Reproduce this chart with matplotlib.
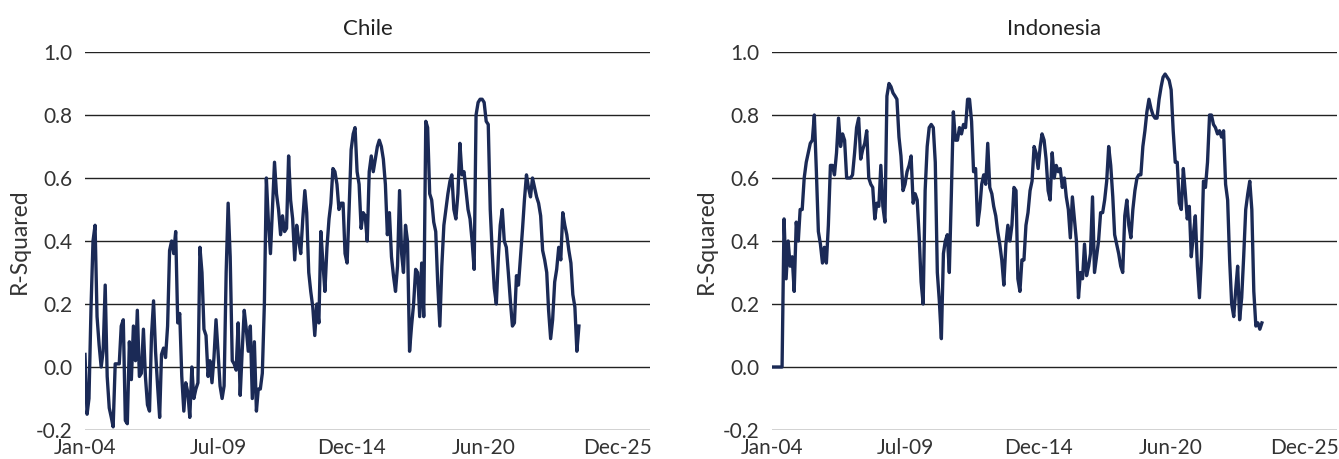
import datetime

import matplotlib
matplotlib.use("Agg")
from matplotlib import pyplot as plt
import matplotlib.dates as mdates
import pandas as pd

plt.rcParams['font.family'] = ['Lato', 'DejaVu Sans']

# Monthly R-squared values, starting Jan 2004
chile_values = [
    0.04, -0.15, -0.10, 0.19, 0.40, 0.45, 0.16, 0.07, 0.00, 0.05,
    0.26, -0.03, -0.13, -0.16, -0.19, 0.01, 0.01, 0.01, 0.13, 0.15,
    -0.17, -0.18, 0.08, -0.04, 0.13, 0.02, 0.18, -0.03, -0.02, 0.12,
    -0.03, -0.12, -0.14, 0.10, 0.21, 0.05, -0.06, -0.16, 0.04, 0.06,
    0.03, 0.13, 0.37, 0.40, 0.36, 0.43, 0.14, 0.17, -0.03, -0.14,
    -0.05, -0.08, -0.16, 0.00, -0.10, -0.07, -0.05, 0.38, 0.30, 0.12,
    0.10, -0.03, 0.02, -0.05, 0.03, 0.15, 0.05, -0.06, -0.10, -0.06,
    0.30, 0.52, 0.35, 0.02, 0.01, -0.01, 0.14, -0.09, 0.05, 0.18,
    0.12, 0.05, 0.13, -0.10, 0.08, -0.14, -0.07, -0.07, -0.02, 0.20,
    0.60, 0.46, 0.36, 0.50, 0.65, 0.55, 0.50, 0.42, 0.48, 0.43,
    0.44, 0.67, 0.53, 0.47, 0.34, 0.45, 0.40, 0.36, 0.47, 0.56,
    0.49, 0.30, 0.24, 0.19, 0.10, 0.20, 0.14, 0.43, 0.33, 0.24,
    0.38, 0.47, 0.52, 0.63, 0.62, 0.58, 0.50, 0.52, 0.52, 0.36,
    0.33, 0.50, 0.69, 0.74, 0.76, 0.62, 0.58, 0.44, 0.49, 0.48,
    0.40, 0.62, 0.67, 0.62, 0.66, 0.70, 0.72, 0.70, 0.66, 0.58,
    0.42, 0.49, 0.35, 0.29, 0.24, 0.32, 0.56, 0.36, 0.30, 0.45,
    0.40, 0.05, 0.13, 0.20, 0.31, 0.30, 0.16, 0.33, 0.16, 0.78,
    0.76, 0.55, 0.53, 0.46, 0.43, 0.26, 0.13, 0.32, 0.45, 0.50,
    0.55, 0.59, 0.61, 0.50, 0.47, 0.55, 0.71, 0.61, 0.62, 0.56,
    0.50, 0.47, 0.40, 0.31, 0.80, 0.84, 0.85, 0.85, 0.84, 0.78,
    0.77, 0.50, 0.36, 0.25, 0.20, 0.35, 0.45, 0.50, 0.40, 0.38,
    0.30, 0.21, 0.13, 0.14, 0.29, 0.26, 0.35, 0.44, 0.53, 0.61,
    0.57, 0.54, 0.60, 0.57, 0.54, 0.52, 0.48, 0.37, 0.34, 0.30,
    0.18, 0.09, 0.15, 0.27, 0.31, 0.38, 0.34, 0.49, 0.45, 0.42,
    0.37, 0.33, 0.23, 0.19, 0.05, 0.13,
]

indonesia_values = [
    0.00, 0.00, 0.00, 0.00, 0.00, 0.00, 0.47, 0.28, 0.40, 0.32,
    0.35, 0.24, 0.46, 0.40, 0.50, 0.50, 0.60, 0.65, 0.68, 0.71,
    0.72, 0.80, 0.62, 0.43, 0.39, 0.33, 0.38, 0.33, 0.45, 0.64,
    0.64, 0.61, 0.68, 0.79, 0.70, 0.74, 0.72, 0.60, 0.60, 0.60,
    0.61, 0.68, 0.76, 0.79, 0.66, 0.69, 0.71, 0.75, 0.60, 0.58,
    0.57, 0.47, 0.52, 0.51, 0.64, 0.51, 0.46, 0.86, 0.90, 0.89,
    0.87, 0.86, 0.85, 0.73, 0.67, 0.56, 0.58, 0.62, 0.64, 0.67,
    0.52, 0.55, 0.53, 0.41, 0.27, 0.20, 0.56, 0.70, 0.76, 0.77,
    0.76, 0.65, 0.30, 0.21, 0.09, 0.36, 0.40, 0.42, 0.30, 0.55,
    0.81, 0.72, 0.72, 0.76, 0.74, 0.77, 0.76, 0.85, 0.85, 0.78,
    0.62, 0.63, 0.45, 0.50, 0.58, 0.61, 0.58, 0.71, 0.57, 0.55,
    0.51, 0.48, 0.43, 0.39, 0.34, 0.26, 0.39, 0.45, 0.40, 0.45,
    0.57, 0.56, 0.28, 0.24, 0.34, 0.34, 0.45, 0.49, 0.56, 0.59,
    0.70, 0.68, 0.63, 0.70, 0.74, 0.72, 0.66, 0.56, 0.53, 0.68,
    0.60, 0.64, 0.62, 0.63, 0.57, 0.60, 0.54, 0.50, 0.41, 0.54,
    0.47, 0.40, 0.22, 0.30, 0.28, 0.39, 0.29, 0.32, 0.36, 0.54,
    0.30, 0.35, 0.40, 0.49, 0.49, 0.53, 0.59, 0.70, 0.64, 0.54,
    0.42, 0.39, 0.36, 0.32, 0.30, 0.48, 0.53, 0.45, 0.41, 0.50,
    0.56, 0.60, 0.61, 0.61, 0.70, 0.75, 0.81, 0.85, 0.82, 0.80,
    0.79, 0.79, 0.85, 0.89, 0.92, 0.93, 0.92, 0.91, 0.88, 0.75,
    0.65, 0.65, 0.52, 0.50, 0.63, 0.55, 0.47, 0.51, 0.35, 0.42,
    0.48, 0.32, 0.22, 0.35, 0.59, 0.57, 0.65, 0.80, 0.80, 0.77,
    0.76, 0.74, 0.75, 0.73, 0.75, 0.58, 0.53, 0.34, 0.20, 0.16,
    0.24, 0.32, 0.15, 0.22, 0.35, 0.50, 0.55, 0.59, 0.50, 0.24,
    0.13, 0.14, 0.12, 0.14,
]

panel_titles = ['Chile', 'Indonesia']
tick_labels = ['Jan-04', 'Jul-09', 'Dec-14', 'Jun-20', 'Dec-25']
y_ticks = [-0.2, 0.0, 0.2, 0.4, 0.6, 0.8, 1.0]

LINE_COLOUR = '#1b2a56'
TEXT_COLOUR = '#333333'

# Excel style date axis: a major tick every 2008 days from Jan 2004
axis_start = datetime.date(2004, 1, 1)
tick_step = datetime.timedelta(days=2008)
tick_dates = [axis_start + tick_step * i for i in range(len(tick_labels))]
axis_end = axis_start + datetime.timedelta(days=8530)

fig = plt.figure(figsize=(13.39, 4.59), dpi=100)

W, H = 1339, 459
ax_width = 565 / W
ax_bottom = (H - 430) / H
ax_height = 378 / H
axes = [
    fig.add_axes([85 / W, ax_bottom, ax_width, ax_height]),
    fig.add_axes([772 / W, ax_bottom, ax_width, ax_height]),
]

for ax, title, values in zip(axes, panel_titles, [chile_values, indonesia_values]):
    dates = pd.date_range('2004-01-01', periods=len(values), freq='MS')
    ax.plot(dates, values, color=LINE_COLOUR, linewidth=2.4, solid_joinstyle='round', zorder=3)

    ax.set_ylim(-0.2, 1.0)
    ax.set_xlim(mdates.date2num(axis_start), mdates.date2num(axis_end))
    ax.set_yticks(y_ticks)
    ax.set_yticklabels([f"{v:.1f}" for v in y_ticks])
    ax.set_xticks([mdates.date2num(d) for d in tick_dates])
    ax.set_xticklabels(tick_labels)

    # Only horizontal gridlines, no frame
    ax.yaxis.grid(True, color='#222222', linewidth=1.0)
    ax.xaxis.grid(False)
    for spine in ax.spines.values():
        spine.set_visible(False)
    ax.tick_params(axis='both', length=0, labelsize=15, labelcolor=TEXT_COLOUR)
    ax.tick_params(axis='y', pad=9)
    ax.tick_params(axis='x', pad=6)

    ax.set_title(title, fontsize=16, color='#222222', pad=12)
    ax.set_ylabel('R-Squared', fontsize=16.5, color=TEXT_COLOUR, labelpad=4)

fig.savefig('out.png', dpi=100)
